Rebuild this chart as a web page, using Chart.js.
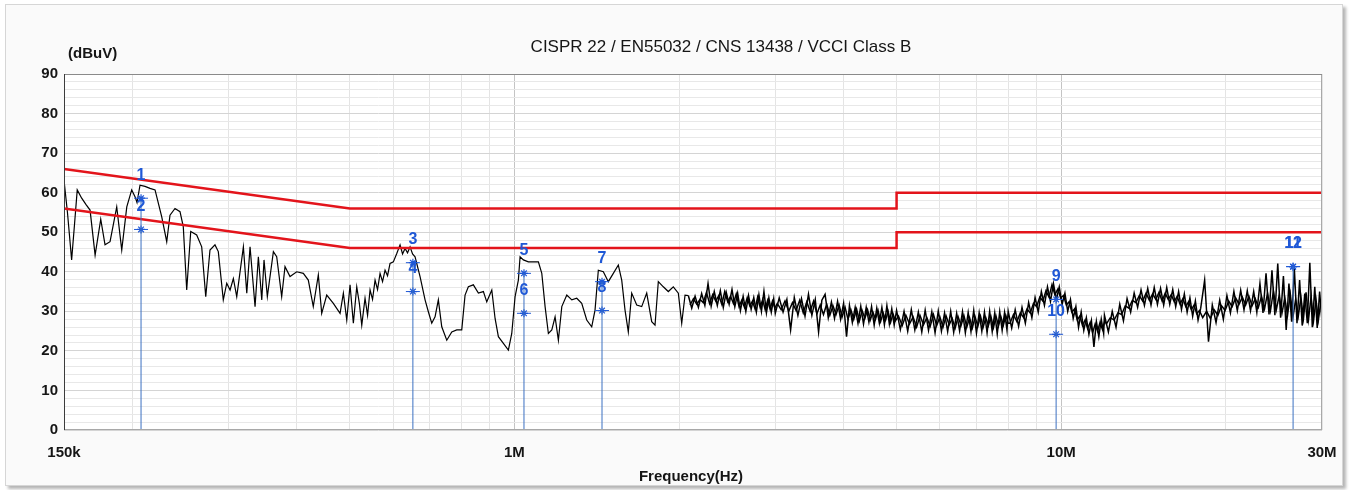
<!DOCTYPE html>
<html lang="en">
<head>
<meta charset="UTF-8">
<title>CISPR 22 / EN55032 / CNS 13438 / VCCI Class B</title>
<script src="https://cdn.jsdelivr.net/npm/chart.js"></script>
<style>
  html, body { margin: 0; padding: 0; background: #ffffff; }
  #frame { position: absolute; left: 5px; top: 4px; width: 1336px; height: 480px;
           background: #fafafa; border: 1px solid #d6d6d6; box-shadow: 3px 3px 3px #b5b5b5; }
  #wrap { position: absolute; left: 0; top: 0; width: 1357px; height: 490px; }
</style>
</head>
<body>
<div id="frame"></div>
<div id="wrap"><canvas id="emiChart"></canvas></div>
<script>
// measured spectrum, 150 kHz - 2 MHz (frequency in MHz, level in dBuV)
const lowFreqMHz = [
  0.150, 0.1522, 0.1549, 0.1568, 0.1586, 0.1616, 0.1646, 0.1674, 0.1710, 0.1751,
  0.1783, 0.1821, 0.1873, 0.1913, 0.1954, 0.1995, 0.2023, 0.2040, 0.2066, 0.2110,
  0.2155, 0.2201, 0.2264, 0.2312, 0.2344, 0.2394, 0.2445, 0.2479, 0.2515, 0.2558,
  0.2623, 0.2679, 0.2725, 0.2774, 0.2833, 0.2873, 0.2934, 0.2977, 0.3019, 0.3061,
  0.3105, 0.3193, 0.3239, 0.3284, 0.3354, 0.3401, 0.3450, 0.3483, 0.3532, 0.3623,
  0.3674, 0.3752, 0.3805, 0.3886, 0.3997, 0.4110, 0.4197, 0.4286, 0.4378, 0.4441,
  0.4536, 0.4664, 0.4798, 0.4865, 0.4935, 0.5004, 0.5074, 0.5147, 0.5204, 0.5257,
  0.5330, 0.5387, 0.5444, 0.5501, 0.5560, 0.5618, 0.5678, 0.5738, 0.5799, 0.5860,
  0.5922, 0.6005, 0.6092, 0.6177, 0.6242, 0.6308, 0.6375, 0.6443, 0.6511, 0.6580,
  0.6720, 0.6863, 0.6959, 0.7059, 0.7158, 0.7258, 0.7363, 0.7520, 0.7680, 0.7843,
  0.8010, 0.8122, 0.8236, 0.8411, 0.8591, 0.8774, 0.8900, 0.9090, 0.9217, 0.9346,
  0.9545, 0.9748, 0.9888, 1.0027, 1.0167, 1.0240, 1.0384, 1.0605, 1.0831, 1.1061,
  1.1221, 1.1378, 1.1537, 1.1704, 1.1867, 1.2033, 1.2207, 1.2467, 1.2732, 1.3000,
  1.3276, 1.3559, 1.3847, 1.4041, 1.4238, 1.4541, 1.4850, 1.5166, 1.5489, 1.5712,
  1.5932, 1.6154, 1.6387, 1.6736, 1.7092, 1.7456, 1.7827, 1.8077, 1.8330, 1.8720,
  1.9118, 1.9525, 1.9942, 2.0229, 2.0513, 2.08
];
const lowLevel = [
  63.2, 55, 43, 52, 60.7, 58.6, 57, 55.6, 44.2, 53.3,
  46.8, 47.6, 56.4, 45.5, 56.4, 60.7, 59, 57.5, 61.9, 61.6,
  61.1, 60.7, 53.9, 47.6, 54.3, 56, 55.2, 51.4, 35.4, 50.2,
  49.3, 46.3, 33.7, 45.5, 46.8, 45.1, 32.9, 37.1, 35.4, 38.3,
  33.7, 46.3, 34.6, 46.3, 31.2, 43.8, 32.9, 43, 33.7, 45.1,
  43.8, 33.7, 41.3, 38.8, 40, 39.6, 37.9, 31.2, 39.2, 29.5,
  34.1, 32, 29.5, 34.6, 27.8, 36.7, 27, 36.2, 32, 26.5,
  33.3, 29, 35.4, 33, 37.9, 35.5, 39.6, 37.5, 40.4, 39,
  42.1, 42.5, 44.6, 46.8, 44.5, 45.9, 44.8, 46.3, 44.5, 43.8,
  38.8, 32.9, 29.9, 27, 28.6, 32.9, 26.1, 22.7, 24.8, 25.3,
  25.3, 34.1, 36.2, 36.7, 34.6, 35, 32.4, 35.4, 28.2, 23.6,
  21.9, 20.2, 24.4, 33.7, 37.9, 43.8, 43, 42.5, 42.5, 42.5,
  39.6, 31.2, 24.4, 25.3, 28.6, 22.7, 31.2, 34.1, 32.9, 33.3,
  32, 27.8, 26.1, 30.3, 40.4, 40, 37.5, 39.6, 41.7, 37.9,
  30.3, 24.8, 34.6, 31.6, 31.2, 34.6, 27.4, 26.5, 37.5, 36.2,
  35, 36.2, 34.6, 27, 34.1, 34.0
];

// measured spectrum, 2 MHz - 30 MHz, sweep A
const highFreqMHz = [
  2.08, 2.11, 2.14, 2.17, 2.20, 2.23, 2.26, 2.29, 2.32, 2.35, 2.38, 2.41, 2.44, 2.47, 2.50, 2.53,
  2.56, 2.59, 2.62, 2.65, 2.68, 2.71, 2.74, 2.77, 2.80, 2.83, 2.86, 2.89, 2.92, 2.95, 2.98,
  3.00, 3.05, 3.10, 3.15, 3.20, 3.25, 3.30, 3.35, 3.40, 3.45, 3.50, 3.55, 3.60, 3.65, 3.70, 3.75,
  3.80, 3.85, 3.90, 3.95, 4.00, 4.05, 4.10, 4.15, 4.20, 4.25, 4.30, 4.35, 4.40, 4.45, 4.50, 4.55,
  4.60, 4.65, 4.70, 4.75, 4.80, 4.85, 4.90, 4.95,
  5.00, 5.08, 5.16, 5.24, 5.32, 5.40, 5.48, 5.56, 5.64, 5.72, 5.80, 5.88, 5.96, 6.04, 6.12, 6.20,
  6.28, 6.36, 6.44, 6.52, 6.60, 6.68, 6.76, 6.84, 6.92, 7.00, 7.08, 7.16, 7.24, 7.32, 7.40, 7.48,
  7.56, 7.64, 7.72, 7.80, 7.88, 7.96,
  8.00, 8.12, 8.24, 8.36, 8.48, 8.60, 8.72, 8.84, 8.96, 9.08, 9.20, 9.32, 9.44, 9.56, 9.68, 9.80,
  9.92, 10.04, 10.16, 10.28, 10.40, 10.52, 10.64, 10.76, 10.88, 11.00, 11.12, 11.24, 11.36, 11.48,
  11.60, 11.72, 11.84, 11.96,
  12.0, 12.2, 12.4, 12.6, 12.8, 13.0, 13.2, 13.4, 13.6, 13.8, 14.0, 14.2, 14.4, 14.6, 14.8, 15.0,
  15.2, 15.4, 15.6, 15.8, 16.0, 16.2, 16.4, 16.6, 16.8, 17.0, 17.2, 17.4, 17.6, 17.8,
  18.0, 18.3, 18.6, 18.9, 19.2, 19.5, 19.8, 20.1, 20.4, 20.7, 21.0, 21.3, 21.6, 21.9, 22.2, 22.5,
  22.8, 23.1, 23.4, 23.7, 24.0, 24.3, 24.6, 24.9, 25.2, 25.5, 25.8, 26.1, 26.4, 26.7, 27.0, 27.3,
  27.6, 27.9, 28.2, 28.5, 28.8, 29.1, 29.4, 29.7, 30.0
];
const highLevel = [
  34.0, 30.8, 33.8, 31.0, 34.5, 31.5, 37.0, 31.3, 35.0, 31.5, 35.2, 31.0, 34.8, 31.8, 35.5, 31.2,
  34.6, 30.2, 33.8, 30.0, 34.0, 30.5, 33.5, 29.8, 34.2, 30.0, 35.0, 29.6, 33.4, 29.8, 33.2,
  29.5, 33.4, 29.8, 33.0, 25.3, 33.5, 29.0, 33.2, 28.8, 34.3, 29.0, 33.0, 24.8, 32.8, 34.3, 28.4,
  32.3, 28.2, 32.5, 28.0, 32.0, 23.6, 31.5, 27.2, 31.0, 27.0, 31.3, 26.8, 31.0, 27.3, 31.2, 26.5,
  30.8, 27.0, 31.0, 26.6, 31.4, 26.8, 30.6, 26.5,
  30.2, 25.4, 30.0, 25.0, 30.4, 25.3, 29.8, 24.8, 30.3, 25.2, 29.9, 24.6, 30.1, 25.0, 29.6, 24.9,
  30.0, 24.7, 29.5, 25.1, 29.9, 24.6, 29.7, 24.9, 30.2, 24.5, 29.6, 25.0, 29.8, 24.6, 30.0, 24.9,
  29.6, 24.3, 29.9, 25.2, 29.7, 25.3,
  30.0, 25.8, 30.4, 26.2, 31.0, 27.0, 32.2, 28.4, 33.5, 29.8, 35.0, 31.5, 36.2, 32.5, 37.0, 33.0,
  36.2, 31.8, 34.6, 30.0, 33.0, 28.2, 31.2, 26.0, 29.8, 25.2, 28.4, 24.2, 27.6, 21.0,
  27.4, 23.6, 28.0, 24.4,
  29.0, 24.8, 30.0, 26.0, 31.8, 27.6, 33.2, 29.8, 34.6, 31.0, 35.4, 31.5, 35.8, 31.6, 36.0, 31.8,
  35.8, 31.6, 36.0, 31.8, 35.5, 31.2, 35.0, 30.5, 34.4, 29.8, 33.4, 28.8, 32.6, 27.8,
  30.8, 37.9, 22.3, 31.6, 27.2, 32.8, 28.0, 34.0, 29.6, 35.0, 30.2, 35.3, 30.4, 35.2, 30.2, 35.0,
  29.8, 37.0, 29.6, 39.6, 29.2, 40.4, 29.0, 42.1, 28.4, 38.9, 25.3, 37.0, 27.4, 40.9, 27.0, 37.9,
  26.4, 34.5, 27.0, 42.3, 26.0, 36.2, 25.8, 35.0, 27.5
];

// measured spectrum, 2 MHz - 30 MHz, sweep B (interleaved bins)
const high2FreqMHz = [
  2.095, 2.125, 2.155, 2.185, 2.215, 2.245, 2.275, 2.305, 2.335, 2.365, 2.395, 2.425, 2.455, 2.485,
  2.515, 2.545, 2.575, 2.605, 2.635, 2.665, 2.695, 2.725, 2.755, 2.785, 2.815, 2.845, 2.875, 2.905,
  2.935, 2.965, 2.995,
  3.025, 3.075, 3.125, 3.175, 3.225, 3.275, 3.325, 3.375, 3.425, 3.475, 3.525, 3.575, 3.625, 3.675,
  3.725, 3.775, 3.825, 3.875, 3.925, 3.975, 4.025, 4.075, 4.125, 4.175, 4.225, 4.275, 4.325, 4.375,
  4.425, 4.475, 4.525, 4.575, 4.625, 4.675, 4.725, 4.775, 4.825, 4.875, 4.925, 4.975,
  5.04, 5.12, 5.20, 5.28, 5.36, 5.44, 5.52, 5.60, 5.68, 5.76, 5.84, 5.92, 6.00, 6.08, 6.16, 6.24,
  6.32, 6.40, 6.48, 6.56, 6.64, 6.72, 6.80, 6.88, 6.96, 7.04, 7.12, 7.20, 7.28, 7.36, 7.44, 7.52,
  7.60, 7.68, 7.76, 7.84, 7.92, 8.00,
  8.06, 8.18, 8.30, 8.42, 8.54, 8.66, 8.78, 8.90, 9.02, 9.14, 9.26, 9.38, 9.50, 9.62, 9.74, 9.86,
  9.98, 10.10, 10.22, 10.34, 10.46, 10.58, 10.70, 10.82, 10.94, 11.06, 11.18, 11.30, 11.42, 11.54,
  11.66, 11.78, 11.90, 12.02,
  12.1, 12.3, 12.5, 12.7, 12.9, 13.1, 13.3, 13.5, 13.7, 13.9, 14.1, 14.3, 14.5, 14.7, 14.9, 15.1,
  15.3, 15.5, 15.7, 15.9, 16.1, 16.3, 16.5, 16.7, 16.9, 17.1, 17.3, 17.5, 17.7, 17.9,
  18.15, 18.45, 18.75, 19.05, 19.35, 19.65, 19.95, 20.25, 20.55, 20.85, 21.15, 21.45, 21.75, 22.05,
  22.35, 22.65, 22.95, 23.25, 23.55, 23.85, 24.15, 24.45, 24.75, 25.05, 25.35, 25.65, 25.95, 26.25,
  26.55, 26.85, 27.15, 27.45, 27.75, 28.05, 28.35, 28.65, 28.95, 29.25, 29.55, 29.85
];
const high2Level = [
  31.6, 33.2, 31.8, 33.0, 32.2, 34.8, 32.0, 34.2, 32.6, 34.0, 31.8, 35.0, 32.4, 33.8,
  32.0, 34.4, 31.2, 32.8, 31.0, 33.4, 31.4, 32.6, 30.6, 33.6, 31.0, 33.0, 30.4, 32.8,
  30.6, 32.6, 30.8,
  32.0, 30.4, 32.6, 30.0, 32.2, 30.2, 32.8, 29.6, 32.4, 30.0, 32.6, 29.4, 31.6, 29.2,
  31.8, 29.0, 31.4, 29.2, 31.6, 28.6, 31.0, 28.0, 30.4, 28.0, 30.6, 27.6, 30.2, 28.2,
  30.4, 27.8, 29.8, 28.0, 30.2, 27.4, 29.6, 27.8, 30.0, 27.2, 29.4, 27.6,
  28.8, 26.4, 29.0, 26.8, 28.6, 26.0, 28.9, 26.6, 28.4, 26.2, 29.2, 26.4, 28.6, 26.0, 28.8, 26.6,
  28.2, 25.8, 28.6, 26.4, 28.9, 26.0, 28.4, 25.8, 28.6, 26.2, 28.8, 26.0, 28.4, 26.4, 28.7, 25.9,
  28.8, 26.3, 28.6, 26.5, 29.0, 27.0,
  27.0, 29.2, 27.4, 29.6, 28.4, 30.6, 29.6, 32.0, 31.2, 33.6, 32.6, 35.2, 33.6, 36.7, 34.2, 35.6,
  33.4, 34.0, 31.6, 32.4, 29.8, 30.6, 27.8, 28.8, 26.4, 27.8, 25.6, 27.2, 24.6, 26.8,
  25.0, 27.2, 25.4, 27.6,
  26.8, 28.4, 27.8, 29.6, 29.2, 31.4, 30.8, 32.8, 32.2, 34.0, 32.6, 34.6, 32.8, 34.4, 33.0, 34.8,
  32.6, 34.6, 33.0, 34.2, 32.4, 33.8, 31.8, 33.2, 31.2, 32.4, 30.4, 31.6, 29.4, 30.2,
  28.4, 30.0, 28.2, 30.4, 29.0, 31.4, 30.2, 32.6, 31.2, 33.4, 31.8, 33.6, 31.6, 33.8,
  31.4, 33.2, 31.0, 33.8, 30.6, 34.6, 30.2, 35.2, 30.4, 34.0, 29.6, 33.4, 29.0, 34.4,
  28.6, 33.0, 28.8, 33.6, 28.2, 34.8, 28.0, 33.8, 27.6, 33.0, 27.8, 32.4
];

// CISPR 22 Class B limits
const qpLimitFreq = [0.15, 0.5, 5, 5, 30];
const qpLimitLevel = [66, 56, 56, 60, 60];
const avLimitFreq = [0.15, 0.5, 5, 5, 30];
const avLimitLevel = [56, 46, 46, 50, 50];

// markers
const markerIds = ['1', '2', '3', '4', '5', '6', '7', '8', '9', '10', '11', '12'];
const markerFreqMHz = [0.2075, 0.2075, 0.652, 0.652, 1.041, 1.041, 1.446, 1.446, 9.79, 9.79, 26.56, 26.56];
const markerLevel = [58.6, 50.7, 42.3, 35.0, 39.6, 29.5, 37.5, 30.2, 33.0, 24.2, 41.3, 41.3];

// axis ticks
const xGridValues = [0.15, 0.2, 0.3, 0.4, 0.5, 0.6, 0.7, 0.8, 0.9, 1, 2, 3, 4, 5, 6, 7, 8, 9, 10, 20, 30];
const xLabelValues = [0.15, 1, 10, 30];
const xLabelText = ['150k', '1M', '10M', '30M'];

const FONT = '"Liberation Sans", Arial, sans-serif';
const BLUE_LINE = '#3b70c2';
const BLUE_TEXT = '#1f58d6';

const toPoints = (xs, ys) => xs.map((x, i) => ({ x: x, y: ys[i] }));

const markerDatasets = [];
for (let i = 0; i < markerIds.length; i += 2) {
  markerDatasets.push({
    data: [{ x: markerFreqMHz[i], y: 0 }, { x: markerFreqMHz[i], y: markerLevel[i] }],
    borderColor: BLUE_LINE, borderWidth: 1, pointRadius: 0, order: 0
  });
}

const decorations = {
  id: 'decorations',
  beforeDraw(chart) {
    const { ctx, chartArea: a } = chart;
    ctx.save();
    ctx.fillStyle = '#ffffff';
    ctx.fillRect(a.left, a.top, a.right - a.left, a.bottom - a.top);
    ctx.restore();
  },
  afterDraw(chart) {
    const { ctx, chartArea: a, scales } = chart;
    ctx.save();
    ctx.lineWidth = 1;
    ctx.strokeStyle = '#a8a8a8';
    ctx.strokeRect(a.left + 0.5, a.top + 0.5, a.right - a.left - 1, a.bottom - a.top - 1);
    ctx.strokeStyle = '#8a8a8a';
    ctx.beginPath();
    ctx.moveTo(a.left, a.top + 0.5); ctx.lineTo(a.right, a.top + 0.5);
    ctx.stroke();
    ctx.strokeStyle = '#3c3c3c';
    ctx.beginPath();
    ctx.moveTo(a.left + 0.5, a.top); ctx.lineTo(a.left + 0.5, a.bottom);
    ctx.stroke();

    // marker numbers
    ctx.fillStyle = BLUE_TEXT;
    ctx.font = 'bold 16px ' + FONT;
    ctx.textAlign = 'center';
    ctx.textBaseline = 'middle';
    markerIds.forEach((id, i) => {
      const x = scales.x.getPixelForValue(markerFreqMHz[i]);
      const y = scales.y.getPixelForValue(markerLevel[i]) - 23;
      ctx.fillText(id, x, y);
    });

    // titles
    ctx.fillStyle = '#151515';
    ctx.font = '17px ' + FONT;
    ctx.fillText('CISPR 22 / EN55032 / CNS 13438 / VCCI Class B', 721, 47);
    ctx.font = 'bold 15px ' + FONT;
    ctx.fillText('Frequency(Hz)', 691, 477);
    ctx.textAlign = 'left';
    ctx.fillText('(dBuV)', 68, 54);
    ctx.restore();
  }
};

new Chart(document.getElementById('emiChart'), {
  type: 'line',
  data: {
    datasets: [
      ...markerDatasets,
      {
        data: toPoints(markerFreqMHz, markerLevel),
        showLine: false, pointStyle: 'star', pointRadius: 4,
        pointBorderColor: BLUE_TEXT, pointBorderWidth: 1.2, order: 0
      },
      {
        data: toPoints(markerFreqMHz, markerLevel),
        showLine: false, pointStyle: 'line', pointRadius: 7,
        pointBorderColor: BLUE_TEXT, pointBorderWidth: 1, order: 0
      },
      {
        data: toPoints(qpLimitFreq, qpLimitLevel),
        borderColor: '#e3141b', borderWidth: 2.5, pointRadius: 0, order: 1
      },
      {
        data: toPoints(avLimitFreq, avLimitLevel),
        borderColor: '#e3141b', borderWidth: 2.5, pointRadius: 0, order: 1
      },
      {
        data: toPoints(lowFreqMHz, lowLevel),
        borderColor: '#000000', borderWidth: 1.2, pointRadius: 0, order: 2
      },
      {
        data: toPoints(highFreqMHz, highLevel),
        borderColor: '#000000', borderWidth: 1.5, pointRadius: 0, order: 2
      },
      {
        data: toPoints(high2FreqMHz, high2Level),
        borderColor: '#000000', borderWidth: 1.5, pointRadius: 0, order: 2
      }
    ]
  },
  options: {
    responsive: true,
    maintainAspectRatio: false,
    animation: false,
    events: [],
    layout: { padding: { left: 0, right: 35, top: 74, bottom: 0 } },
    plugins: { legend: { display: false }, tooltip: { enabled: false } },
    elements: { line: { tension: 0 } },
    scales: {
      x: {
        type: 'logarithmic', min: 0.15, max: 30,
        afterBuildTicks: s => { s.ticks = xGridValues.map(v => ({ value: v })); },
        afterFit: s => { s.height = 60; },
        ticks: {
          autoSkip: false, maxRotation: 0, padding: 14, color: '#151515',
          font: { family: FONT, size: 15, weight: 'bold' },
          callback: v => { const i = xLabelValues.indexOf(v); return i < 0 ? '' : xLabelText[i]; }
        },
        grid: {
          drawTicks: false,
          color: c => (c.tick && (c.tick.value === 1 || c.tick.value === 10)) ? '#c4c4c4' : '#e4e4e4'
        },
        border: { display: false }
      },
      y: {
        min: 0, max: 90,
        afterFit: s => { s.width = 64; },
        ticks: {
          stepSize: 2, autoSkip: false, padding: 6, color: '#151515',
          font: { family: FONT, size: 15, weight: 'bold' },
          callback: v => (v % 10 === 0 ? v : '')
        },
        grid: {
          drawTicks: false,
          color: c => (c.tick && c.tick.value % 10 === 0) ? '#d4d4d4' : '#e8e8e8'
        },
        border: { display: false }
      }
    }
  },
  plugins: [decorations]
});
</script>
</body>
</html>
